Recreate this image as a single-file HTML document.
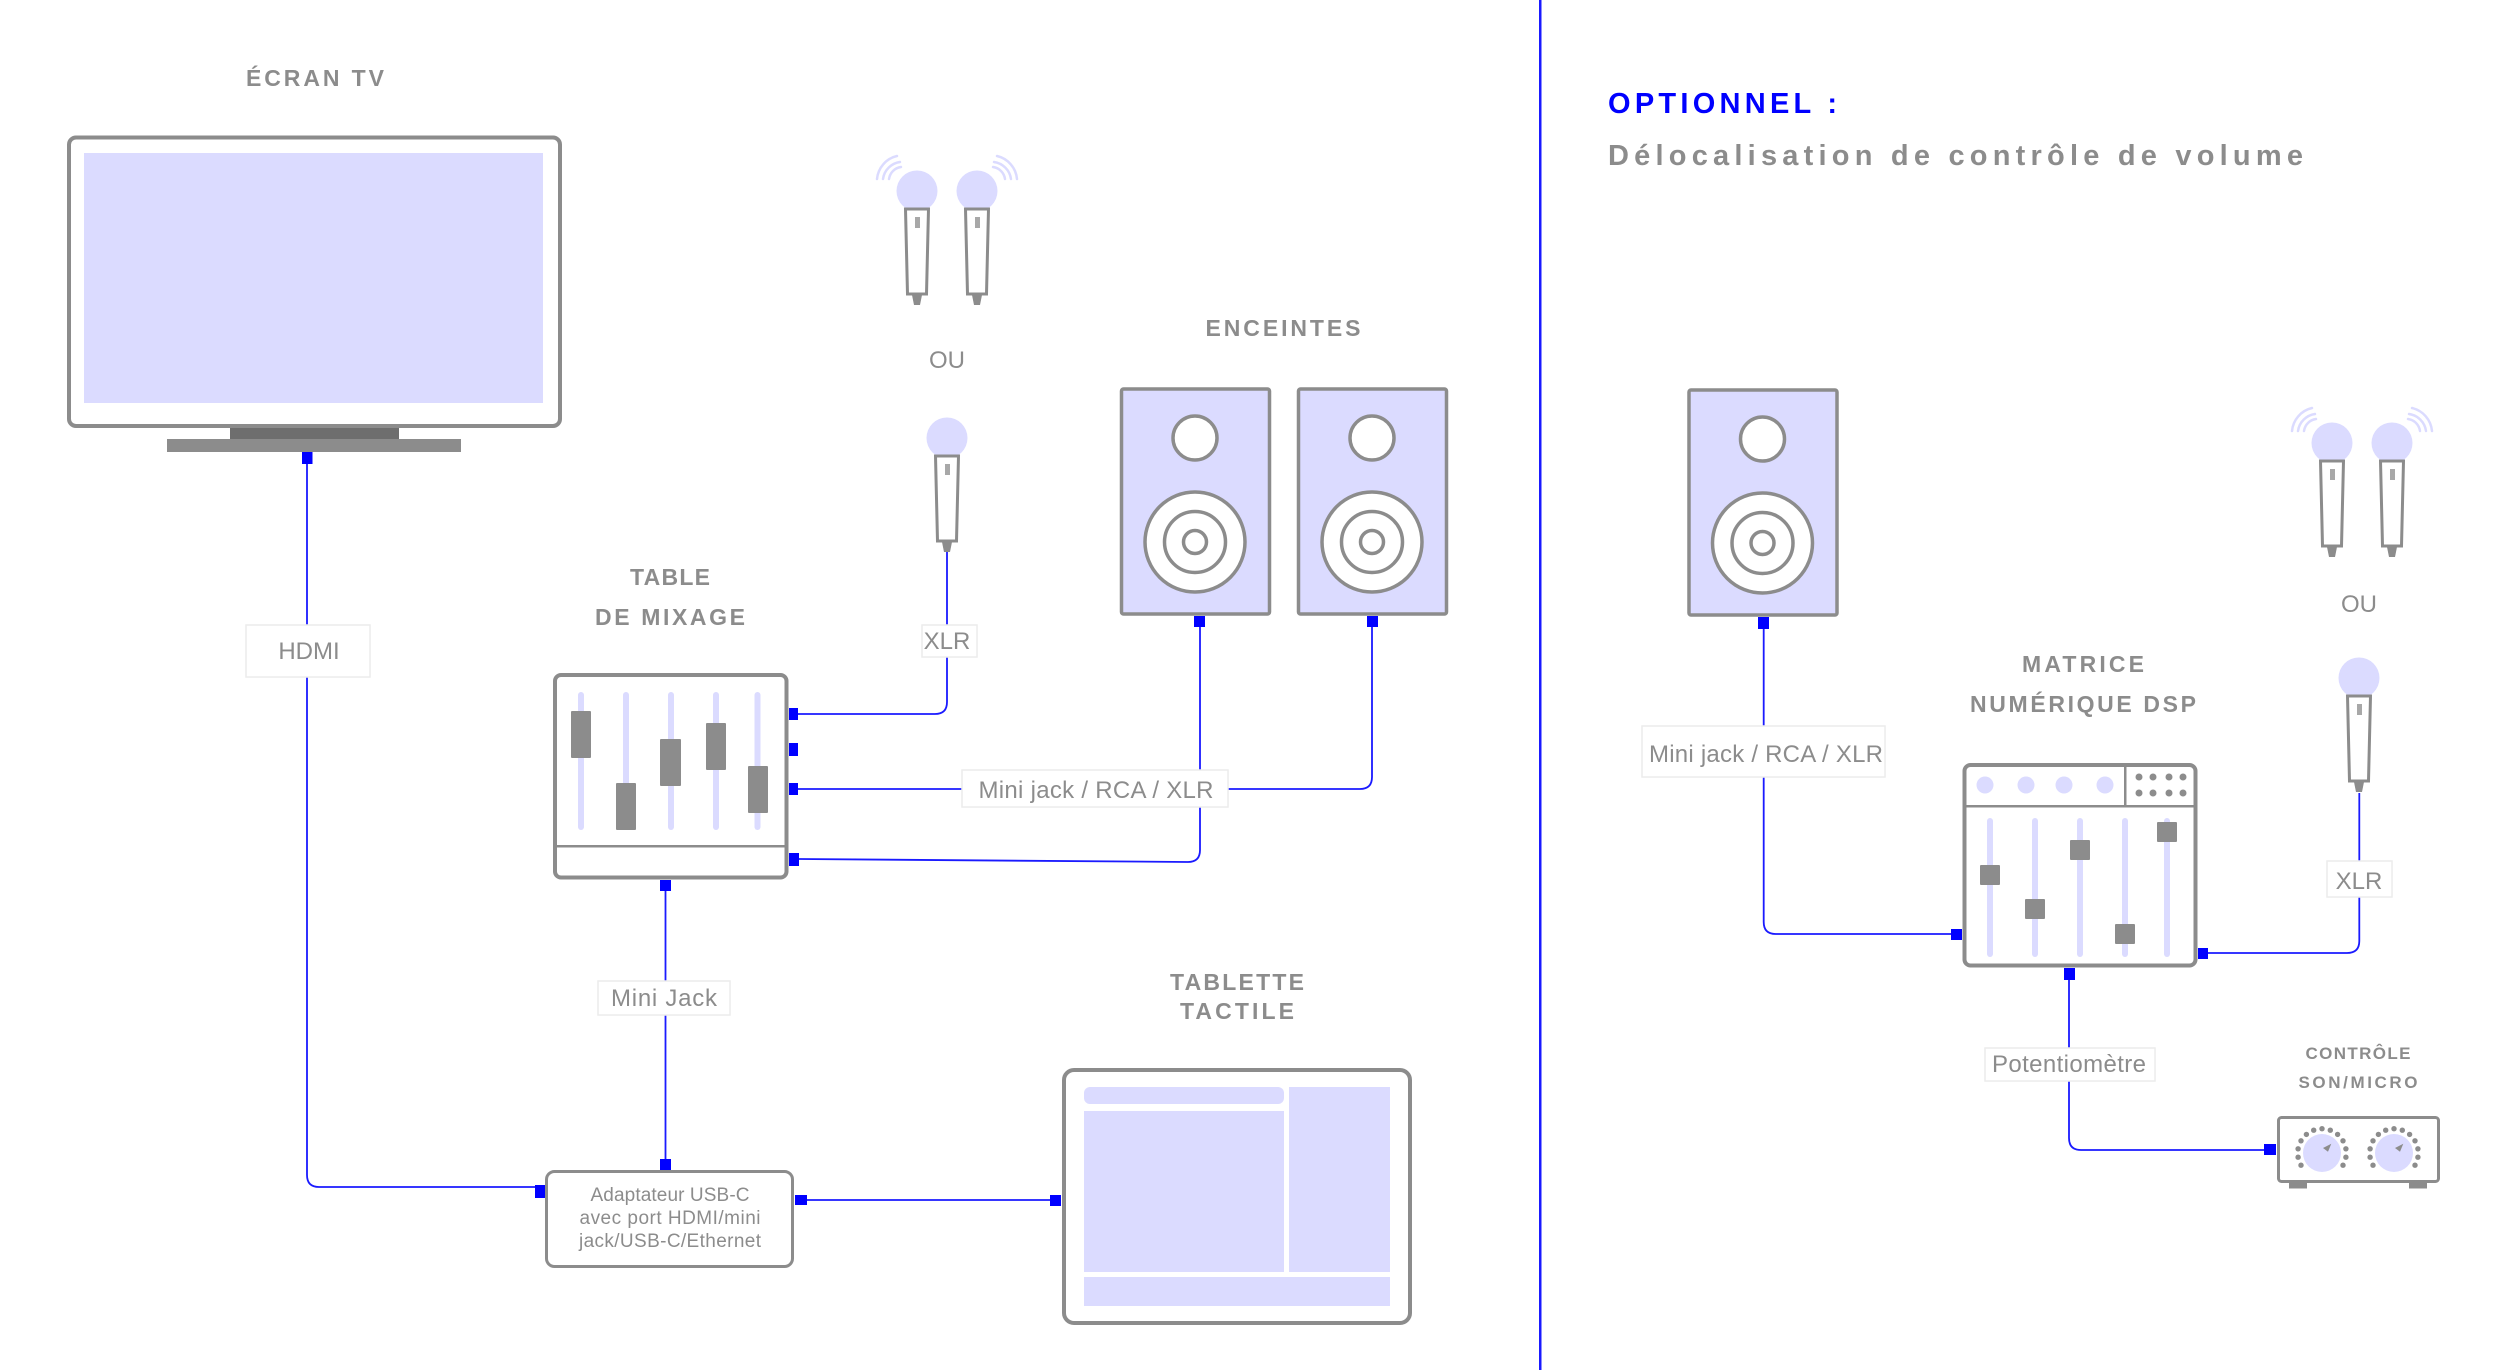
<!DOCTYPE html>
<html lang="fr"><head><meta charset="utf-8"><title>Schéma</title>
<style>
html,body{margin:0;padding:0;background:#fff}
svg{display:block}
text{font-family:"Liberation Sans",sans-serif;fill:#8c8c8c}
.t{font-weight:bold;font-size:23px;text-anchor:middle}
.l{font-size:24px;text-anchor:middle}
.a{font-size:19px;text-anchor:middle}
.g{fill:none;stroke:#8c8c8c;stroke-width:4}
.w{fill:none;stroke:#1a1aff;stroke-width:1.8}
.p{fill:#0000ff}
.f{fill:#dbdbff}
.k{fill:#8c8c8c}
.b{fill:#fff;stroke:#ececec;stroke-width:1.5}
.arc{fill:none;stroke:#dbdbff;stroke-width:2.5;stroke-linecap:round}
</style></head><body>
<svg width="2500" height="1370" viewBox="0 0 2500 1370" xmlns="http://www.w3.org/2000/svg">
<defs>
<g id="mic">
<circle class="f" cx="917" cy="191" r="20.5"/>
<path d="M905.5 209H928.5L926.5 294H907.5Z" fill="#fff" stroke="#8c8c8c" stroke-width="3"/>
<rect x="915" y="217" width="5" height="11" fill="#a8a8a8"/>
<path class="k" d="M912 295H922L920 305H914Z"/>
</g>
<g id="pair">
<use href="#mic"/>
<use href="#mic" x="60"/>
<path class="arc" d="M877 179A26 26 0 0 1 897 156M883 179A20 20 0 0 1 900 162M889 179A14 14 0 0 1 901 167"/>
<path class="arc" d="M1017 179A26 26 0 0 0 997 156M1011 179A20 20 0 0 0 994 162M1005 179A14 14 0 0 0 993 167"/>
</g>
<g id="spk">
<rect x="1121.500" y="389" width="148" height="225" rx="2" class="f" stroke="#8c8c8c" stroke-width="3.500"/>
<circle cx="1195" cy="438" r="22" fill="#fff" stroke="#8c8c8c" stroke-width="3.500"/>
<circle cx="1195" cy="542" r="50" fill="#fff" stroke="#8c8c8c" stroke-width="3.500"/>
<circle cx="1195" cy="542" r="30.500" fill="#fff" stroke="#8c8c8c" stroke-width="3.500"/>
<circle cx="1195" cy="542" r="11.500" fill="#fff" stroke="#8c8c8c" stroke-width="3.500"/>
</g>
<g id="dial">
<circle class="f" cx="0" cy="0" r="19"/>
<path class="k" d="M1-5L9.3-9.3L6-1.3Z"/>
<g class="k">
<circle cx="0" cy="-24.3" r="2.7"/>
<circle cx="8.3" cy="-22.8" r="2.7"/><circle cx="-8.3" cy="-22.8" r="2.7"/>
<circle cx="15.6" cy="-18.6" r="2.7"/><circle cx="-15.6" cy="-18.6" r="2.7"/>
<circle cx="21" cy="-12.2" r="2.7"/><circle cx="-21" cy="-12.2" r="2.7"/>
<circle cx="23.9" cy="-4.2" r="2.7"/><circle cx="-23.9" cy="-4.2" r="2.7"/>
<circle cx="23.9" cy="4.2" r="2.7"/><circle cx="-23.9" cy="4.2" r="2.7"/>
<circle cx="21" cy="12.2" r="2.7"/><circle cx="-21" cy="12.2" r="2.7"/>
</g>
</g>
</defs>

<!-- divider -->
<rect x="1539" y="0" width="2.500" height="1370" fill="#1a1aff"/>

<!-- connectors left -->
<path class="w" d="M307 464V1175Q307 1187 319 1187H535"/>
<path class="w" d="M798 714H935Q947 714 947 702V552"/>
<path class="w" d="M798 789H1360Q1372 789 1372 777V627"/>
<path class="w" d="M799 859L1188 862Q1200 862 1200 850V627"/>
<path class="w" d="M665.500 890V1159"/>
<path class="w" d="M807 1200H1050"/>

<!-- TV -->
<text class="t" x="315" y="86" textLength="138">ÉCRAN TV</text>
<rect x="69" y="137.500" width="491" height="288.500" rx="7" class="g"/>
<rect class="f" x="84" y="153" width="459" height="250"/>
<rect x="230" y="428" width="169" height="11" fill="#6e6e6e"/>
<rect class="k" x="167" y="439" width="294" height="13"/>
<rect class="p" x="302" y="452" width="10.500" height="12"/>
<rect class="b" x="246" y="625" width="124" height="52"/>
<text class="l" x="309" y="659">HDMI</text>

<!-- Mics left -->
<use href="#pair"/>
<text class="l" x="947" y="368">OU</text>
<use href="#mic" x="30" y="247"/>
<rect class="b" x="922" y="625" width="55" height="32"/>
<text class="l" x="947" y="649">XLR</text>

<!-- Speakers -->
<text class="t" x="1283" y="336" textLength="155">ENCEINTES</text>
<use href="#spk"/>
<use href="#spk" x="177"/>
<rect class="p" x="1194" y="616" width="11" height="11"/>
<rect class="p" x="1367" y="616" width="11" height="11"/>

<!-- Mixer -->
<text class="t" x="670" y="585" textLength="80">TABLE</text>
<text class="t" x="670" y="625" textLength="150">DE MIXAGE</text>
<rect x="555" y="675" width="231.500" height="202.500" rx="6" class="g" fill="#fff"/>
<g class="f">
<rect x="578" y="692" width="6" height="138" rx="3"/>
<rect x="623" y="692" width="6" height="138" rx="3"/>
<rect x="668" y="692" width="6" height="138" rx="3"/>
<rect x="713" y="692" width="6" height="138" rx="3"/>
<rect x="754.500" y="692" width="6" height="138" rx="3"/>
</g>
<g class="k">
<rect x="571" y="711" width="20" height="47" rx="1"/>
<rect x="616" y="783" width="20" height="47" rx="1"/>
<rect x="660" y="739" width="21" height="47" rx="1"/>
<rect x="706" y="723" width="20" height="47" rx="1"/>
<rect x="748" y="766" width="20" height="47" rx="1"/>
</g>
<rect class="k" x="555" y="845" width="231" height="2.500"/>
<rect class="p" x="789" y="708" width="9" height="12"/>
<rect class="p" x="789" y="743" width="9" height="13"/>
<rect class="p" x="789" y="783" width="9" height="12"/>
<rect class="p" x="789" y="853" width="10" height="13"/>
<rect class="p" x="660" y="880" width="11" height="11"/>

<rect class="b" x="962" y="770" width="266" height="37"/>
<text class="l" x="1096" y="798" textLength="235">Mini jack / RCA / XLR</text>
<rect class="b" x="598" y="981" width="132" height="34"/>
<text class="l" x="664" y="1006" textLength="106">Mini Jack</text>

<!-- Adapter -->
<rect x="546.500" y="1171.500" width="246" height="95" rx="8" fill="#fff" stroke="#8c8c8c" stroke-width="3"/>
<text class="a" x="670" y="1201" textLength="159">Adaptateur USB-C</text>
<text class="a" x="670" y="1224" textLength="181">avec port HDMI/mini</text>
<text class="a" x="670" y="1247" textLength="182">jack/USB-C/Ethernet</text>
<rect class="p" x="660" y="1159" width="11" height="11"/>
<rect class="p" x="535" y="1185" width="10" height="13"/>
<rect class="p" x="795" y="1195" width="12" height="10"/>

<!-- Tablet -->
<text class="t" x="1237" y="990" textLength="134">TABLETTE</text>
<text class="t" x="1237" y="1019" textLength="114">TACTILE</text>
<rect x="1064" y="1070" width="346" height="253" rx="10" class="g" fill="#fff"/>
<rect class="f" x="1084" y="1087" width="200" height="17" rx="6"/>
<rect class="f" x="1084" y="1111" width="200" height="161"/>
<rect class="f" x="1289" y="1087" width="101" height="185"/>
<rect class="f" x="1084" y="1277" width="306" height="29"/>
<rect class="p" x="1050" y="1195" width="11" height="11"/>

<!-- Right panel -->
<text x="1608" y="113" font-weight="bold" font-size="29" textLength="229" style="fill:#0000ff">OPTIONNEL :</text>
<text x="1608" y="165" font-weight="bold" font-size="29" textLength="695">Délocalisation de contrôle de volume</text>

<use href="#spk" x="567.500" y="1"/>
<rect class="p" x="1758" y="617" width="11" height="12"/>
<path class="w" d="M1763.700 629V922Q1763.700 934 1775.700 934H1951"/>
<rect class="b" x="1642" y="726" width="243" height="51"/>
<text class="l" x="1766" y="762" textLength="234">Mini jack / RCA / XLR</text>

<use href="#pair" x="1415" y="252"/>
<text class="l" x="2359" y="612">OU</text>
<use href="#mic" x="1442" y="487"/>
<path class="w" d="M2208 953H2347Q2359.300 953 2359.300 941V793"/>
<rect class="b" x="2327" y="861" width="65" height="36"/>
<text class="l" x="2359" y="889">XLR</text>

<!-- Matrix -->
<text class="t" x="2083" y="672" textLength="122">MATRICE</text>
<text class="t" x="2083" y="712" textLength="226">NUMÉRIQUE DSP</text>
<rect x="1964.500" y="765" width="231" height="200.500" rx="6" class="g" fill="#fff"/>
<rect class="k" x="1965" y="805" width="230" height="2.500"/>
<rect class="k" x="2124" y="765" width="2.500" height="41"/>
<g class="f">
<circle cx="1985" cy="785" r="8.500"/><circle cx="2026" cy="785" r="8.500"/><circle cx="2064" cy="785" r="8.500"/><circle cx="2105" cy="785" r="8.500"/>
<rect x="1987" y="818" width="6" height="139" rx="3"/>
<rect x="2032" y="818" width="6" height="139" rx="3"/>
<rect x="2077" y="818" width="6" height="139" rx="3"/>
<rect x="2122" y="818" width="6" height="139" rx="3"/>
<rect x="2164" y="818" width="6" height="139" rx="3"/>
</g>
<g class="k">
<circle cx="2139" cy="777" r="3.500"/><circle cx="2153" cy="777" r="3.500"/><circle cx="2169" cy="777" r="3.500"/><circle cx="2183" cy="777" r="3.500"/>
<circle cx="2139" cy="793" r="3.500"/><circle cx="2153" cy="793" r="3.500"/><circle cx="2169" cy="793" r="3.500"/><circle cx="2183" cy="793" r="3.500"/>
<rect x="1980" y="865" width="20" height="20" rx="1"/>
<rect x="2025" y="899" width="20" height="20" rx="1"/>
<rect x="2070" y="840" width="20" height="20" rx="1"/>
<rect x="2115" y="924" width="20" height="20" rx="1"/>
<rect x="2157" y="822" width="20" height="20" rx="1"/>
</g>
<rect class="p" x="1951" y="929" width="11" height="11"/>
<rect class="p" x="2198" y="948" width="10" height="11"/>
<rect class="p" x="2064" y="968" width="11" height="12"/>
<path class="w" d="M2069 980V1138Q2069 1150 2081 1150H2265"/>
<rect class="b" x="1985" y="1048" width="170" height="33"/>
<text class="l" x="2069" y="1072" textLength="154">Potentiomètre</text>

<!-- Control -->
<text x="2358" y="1059" font-weight="bold" font-size="17" text-anchor="middle" textLength="105">CONTRÔLE</text>
<text x="2358" y="1088" font-weight="bold" font-size="17" text-anchor="middle" textLength="119">SON/MICRO</text>
<rect x="2278.500" y="1117.500" width="160" height="64" rx="3" fill="#fff" stroke="#8c8c8c" stroke-width="3"/>
<rect x="2289" y="1183" width="18" height="5.500" fill="#8c8c8c"/>
<rect x="2409" y="1183" width="18" height="5.500" fill="#8c8c8c"/>
<use href="#dial" x="2322" y="1153"/>
<use href="#dial" x="2394" y="1153"/>
<rect class="p" x="2264" y="1144" width="12" height="11"/>
</svg>
</body></html>
